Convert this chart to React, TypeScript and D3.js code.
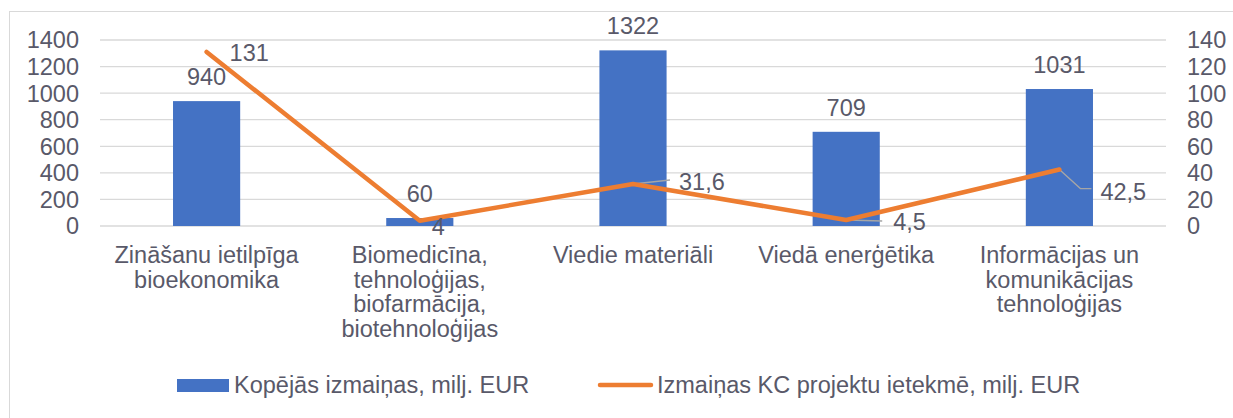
import React from "react";
import * as d3 from "d3";

const categories = [
  ["Zināšanu ietilpīga", "bioekonomika"],
  ["Biomedicīna,", "tehnoloģijas,", "biofarmācija,", "biotehnoloģijas"],
  ["Viedie materiāli"],
  ["Viedā enerģētika"],
  ["Informācijas un", "komunikācijas", "tehnoloģijas"],
];
const totalChange = [940, 60, 1322, 709, 1031];
const kcChange = [131, 4, 31.6, 4.5, 42.5];
const kcLabels = ["131", "4", "31,6", "4,5", "42,5"];
const leftTicks = [0, 200, 400, 600, 800, 1000, 1200, 1400];
const rightTicks = [0, 20, 40, 60, 80, 100, 120, 140];
const seriesNames = ["Kopējās izmaiņas, milj. EUR", "Izmaiņas KC projektu ietekmē, milj. EUR"];

// label placement for the line series (leader lines where Excel moved them)
const labelLayout = [
  { dx: 23, dy: 1, leader: null },
  { dx: 12, dy: 6, leader: null },
  { dx: 46, dy: -2, leader: [[37, -4]] },
  { dx: 47, dy: 2, leader: [[36, 1]] },
  { dx: 41, dy: 22, leader: [[21, 19], [32, 19]] },
];

const W = 1233;
const H = 418;
const left = 100;
const right = 1166;
const top = 40;
const bottom = 226;

const BLUE = "#4472C4";
const ORANGE = "#ED7D31";
const TEXT = "#595969";
const GRID = "#d9d9d9";
const FONT = "'Liberation Sans', Arial, sans-serif";

export default function App() {
  const x = d3.scaleBand<number>().domain(d3.range(categories.length)).range([left, right]);
  const yL = d3.scaleLinear().domain([0, 1400]).range([bottom, top]);
  const yR = d3.scaleLinear().domain([0, 140]).range([bottom, top]);
  const barW = x.bandwidth() * 0.315;
  const cx = (i: number) => (x(i) as number) + x.bandwidth() / 2;

  const line = d3
    .line<number>()
    .x((_, i) => cx(i))
    .y((d) => yR(d));

  return (
    <svg
      width={W}
      height={H}
      style={{ position: "fixed", left: 0, top: 0, background: "#fff" }}
      fontFamily={FONT}
      fontSize={23.5}
    >
      <rect x={9.5} y={11.5} width={1240} height={430} fill="#fff" stroke={GRID} />

      {leftTicks.map((t) => (
        <line key={t} x1={left} x2={right} y1={yL(t)} y2={yL(t)} stroke={GRID} strokeWidth={1.3} />
      ))}
      {leftTicks.map((t) => (
        <text key={t} x={79} y={yL(t)} dy="0.36em" textAnchor="end" fill={TEXT}>
          {t}
        </text>
      ))}
      {rightTicks.map((t) => (
        <text key={t} x={1187} y={yR(t)} dy="0.36em" fill={TEXT}>
          {t}
        </text>
      ))}

      {totalChange.map((v, i) => (
        <rect key={i} x={cx(i) - barW / 2} y={yL(v)} width={barW} height={yL(0) - yL(v)} fill={BLUE} />
      ))}
      {totalChange.map((v, i) => (
        <text key={i} x={cx(i)} y={yL(v) - 16} textAnchor="middle" fill={TEXT}>
          {v}
        </text>
      ))}

      {kcChange.map((v, i) => {
        const L = labelLayout[i];
        if (!L.leader) return null;
        const pts = [[cx(i), yR(v)], ...L.leader.map(([a, b]) => [cx(i) + a, yR(v) + b])];
        return (
          <polyline
            key={i}
            points={pts.map((p) => p.join(",")).join(" ")}
            fill="none"
            stroke="#a6a6a6"
            strokeWidth={1.3}
          />
        );
      })}

      <path
        d={line(kcChange) || ""}
        fill="none"
        stroke={ORANGE}
        strokeWidth={4.5}
        strokeLinejoin="round"
        strokeLinecap="round"
      />

      {kcChange.map((v, i) => (
        <text
          key={i}
          x={cx(i) + labelLayout[i].dx}
          y={yR(v) + labelLayout[i].dy}
          dy="0.36em"
          fill={TEXT}
        >
          {kcLabels[i]}
        </text>
      ))}

      {categories.map((lines, i) => (
        <text key={i} x={cx(i)} y={263} textAnchor="middle" fill={TEXT}>
          {lines.map((s, j) => (
            <tspan key={j} x={cx(i)} dy={j === 0 ? 0 : 24.5}>
              {s}
            </tspan>
          ))}
        </text>
      ))}

      <rect x={177} y={379} width={52} height={13} fill={BLUE} />
      <text x={234} y={393} fill={TEXT}>
        {seriesNames[0]}
      </text>
      <line x1={600} x2={651} y1={385} y2={385} stroke={ORANGE} strokeWidth={4.5} strokeLinecap="round" />
      <text x={657} y={393} fill={TEXT}>
        {seriesNames[1]}
      </text>
    </svg>
  );
}
